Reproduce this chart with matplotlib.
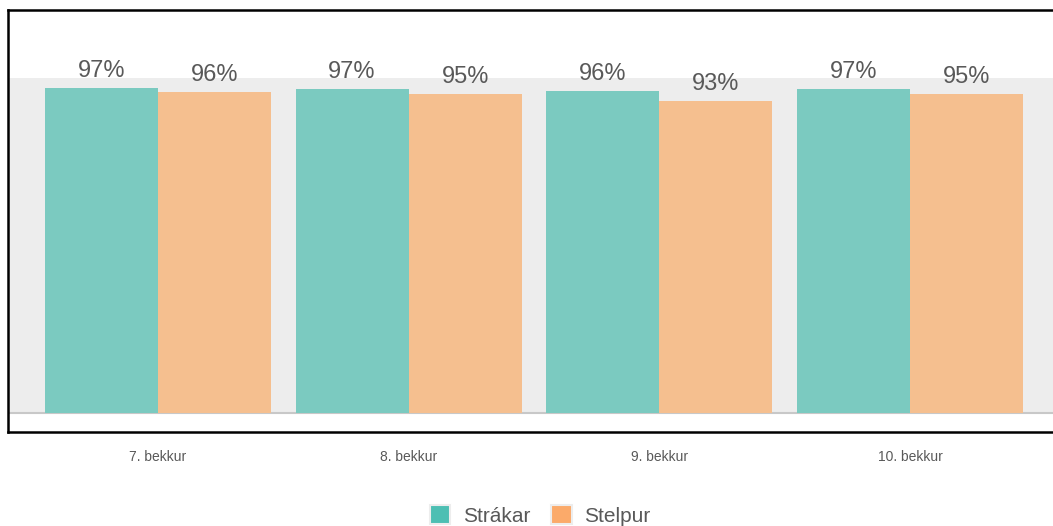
import matplotlib
matplotlib.use("Agg")
import matplotlib.pyplot as plt
from matplotlib.patches import Patch
import numpy as np

plt.rcParams["font.family"] = ["Liberation Sans", "DejaVu Sans"]

categories = ["7. bekkur", "8. bekkur", "9. bekkur", "10. bekkur"]
series_names = ["Strákar", "Stelpur"]
strakar = [97.0, 96.7, 96.0, 96.8]
stelpur = [95.8, 95.1, 93.2, 95.1]
labels_strakar = ["97%", "97%", "96%", "97%"]
labels_stelpur = ["96%", "95%", "93%", "95%"]

legend_colors = ["#4DBFB3", "#FBAA6A"]
bar_colors = ["#7BCAC0", "#F5BF8F"]
text_color = "#595959"

W, H = 1053, 526
fig = plt.figure(figsize=(W / 100, H / 100), dpi=100)
left, right, top, bottom = 8, 1060, 10, 432
ax = fig.add_axes([left / W, 1 - bottom / H, (right - left) / W, (bottom - top) / H])

x = np.arange(len(categories))
bw = 0.451
ax.set_xlim(-0.598, len(categories) - 1 + 0.598)
ax.set_ylim(-5.7, 120.3)
ax.axhspan(0, 100, color="#EDEDED", zorder=0, lw=0)
ax.axhline(0, color="#C8C8C8", lw=1.5, zorder=1)

b1 = ax.bar(x - bw / 2, strakar, bw, color=bar_colors[0], zorder=2, lw=0)
b2 = ax.bar(x + bw / 2, stelpur, bw, color=bar_colors[1], zorder=2, lw=0)
for rect, lab in zip(b1, labels_strakar):
    ax.text(rect.get_x() + rect.get_width() / 2, rect.get_height() + 1.8, lab,
            ha="center", va="bottom", fontsize=17, color=text_color)
for rect, lab in zip(b2, labels_stelpur):
    ax.text(rect.get_x() + rect.get_width() / 2, rect.get_height() + 1.8, lab,
            ha="center", va="bottom", fontsize=17, color=text_color)

ax.set_xticks(x)
ax.set_xticklabels(categories, fontsize=10, color=text_color)
ax.tick_params(axis="x", length=0, pad=13)
ax.set_yticks([])
for side in ["left", "top", "bottom"]:
    ax.spines[side].set_linewidth(1.8)
    ax.spines[side].set_color("black")
ax.spines["right"].set_visible(False)

handles = [Patch(facecolor=c, edgecolor="#EDEDED", lw=1.5) for c in legend_colors]
fig.legend(handles, series_names, loc="lower center", bbox_to_anchor=(0.513, -0.035),
           ncol=2, frameon=False, fontsize=15, labelcolor=text_color,
           handlelength=1.0, handleheight=1.0, handletextpad=0.6, columnspacing=1.0)

fig.savefig("out.png", dpi=100)
